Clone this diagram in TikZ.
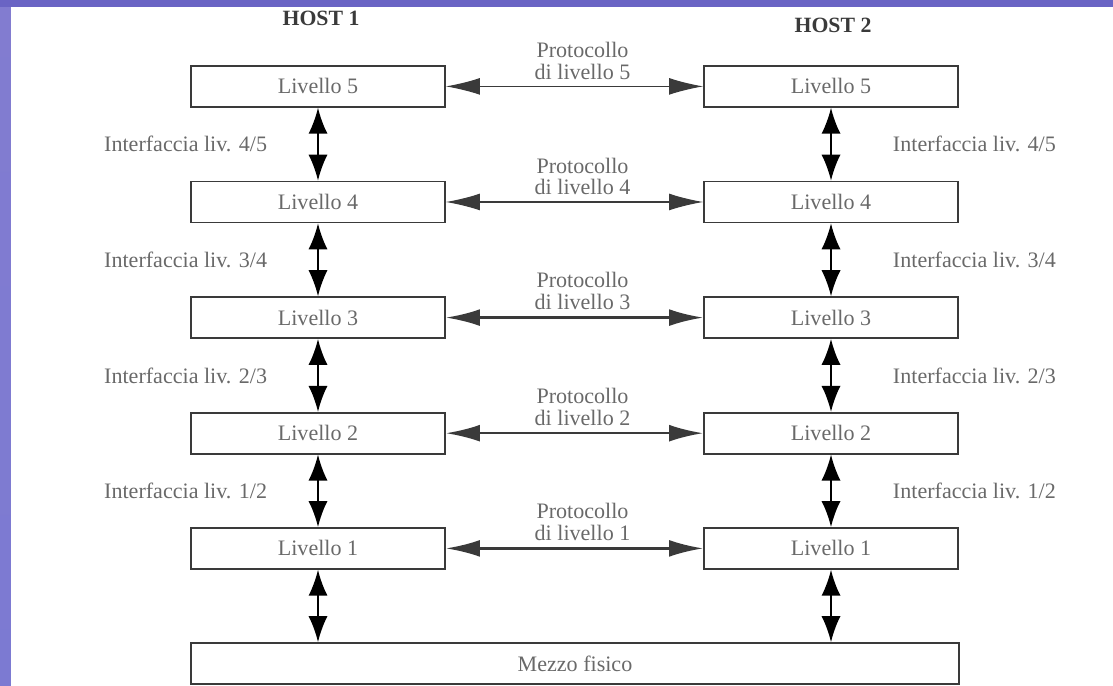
\documentclass[tikz,border=0pt]{standalone}
\usepackage{fontspec}
\setmainfont{Liberation Serif}
\definecolor{FrameBlue}{RGB}{106, 100, 196}
\definecolor{StripTop}{RGB}{130, 124, 208}
\definecolor{StripMid}{RGB}{170, 166, 222}
\definecolor{StripBot}{RGB}{124, 122, 210}
\definecolor{LineGray}{RGB}{58, 58, 58}
\definecolor{TextGray}{RGB}{105, 105, 105}
\usetikzlibrary{arrows.meta, positioning, calc}

\begin{document}
\begin{tikzpicture}[
        layer/.style={rectangle, draw=LineGray, line width=1.2pt, minimum width=6.35cm, minimum height=1.025cm, inner sep=0pt, text=TextGray, font=\fontsize{15.7}{15.5}\selectfont},
        host/.style={text=LineGray, font=\fontsize{15.5}{15.5}\selectfont\bfseries},
        iface/.style={inner sep=0pt, text=TextGray, font=\fontsize{15.7}{15.5}\selectfont},
        proto/.style={align=center, inner sep=2pt, text=TextGray, font=\fontsize{15.7}{15.5}\selectfont},
        varrow/.style={{Latex[length=6.5mm, width=4.8mm]}-{Latex[length=6.5mm, width=4.8mm]}, line width=1.4pt, black},
        harrow/.style={{Latex[length=8.5mm, width=4.2mm]}-{Latex[length=8.5mm, width=4.2mm]}, line width=0.8pt, LineGray},
        thickarrow/.style={harrow, line width=1.8pt}
    ]
        % Frame of the slide
        \useasboundingbox (0, 0) rectangle (27.825, 17.15);
        \shade[top color=StripTop, middle color=StripMid, bottom color=StripBot] (0, 0) rectangle (0.275, 17.15);
        \fill[FrameBlue] (0, 16.975) rectangle (27.825, 17.15);

        % Host 1
        \node[host] (h1) at (8.025, 16.7) {HOST 1};
        \node[layer] (l5a) at (7.95, 14.99) {Livello 5};
        \node[layer] (l4a) at (7.95, 12.10) {Livello 4};
        \node[layer] (l3a) at (7.95, 9.21) {Livello 3};
        \node[layer] (l2a) at (7.95, 6.32) {Livello 2};
        \node[layer] (l1a) at (7.95, 3.44) {Livello 1};

        % Host 2
        \node[host] (h2) at (20.825, 16.525) {HOST 2};
        \node[layer] (l5b) at (20.775, 14.99) {Livello 5};
        \node[layer] (l4b) at (20.775, 12.10) {Livello 4};
        \node[layer] (l3b) at (20.775, 9.21) {Livello 3};
        \node[layer] (l2b) at (20.775, 6.32) {Livello 2};
        \node[layer] (l1b) at (20.775, 3.44) {Livello 1};

        % Physical medium
        \node[layer, minimum width=19.2cm] (mezzo) at (14.375, 0.5625) {Mezzo fisico};

        % Peer protocols
        \draw[harrow] (l5a) -- node[proto, above=2.5pt, xshift=0.2cm] {Protocollo\\di livello 5} (l5b);
        \draw[harrow] (l4a) -- node[proto, above=2.5pt, xshift=0.2cm] {Protocollo\\di livello 4} (l4b);
        \draw[thickarrow] (l3a) -- node[proto, above=2.5pt, xshift=0.2cm] {Protocollo\\di livello 3} (l3b);
        \draw[thickarrow] (l2a) -- node[proto, above=2.5pt, xshift=0.2cm] {Protocollo\\di livello 2} (l2b);
        \draw[thickarrow] (l1a) -- node[proto, above=2.5pt, xshift=0.2cm] {Protocollo\\di livello 1} (l1b);

        % Interfaces, host 1
        \draw[varrow] (l5a) -- node[iface, left=1.25cm] {Interfaccia liv. 4/5} (l4a);
        \draw[varrow] (l4a) -- node[iface, left=1.25cm] {Interfaccia liv. 3/4} (l3a);
        \draw[varrow] (l3a) -- node[iface, left=1.25cm] {Interfaccia liv. 2/3} (l2a);
        \draw[varrow] (l2a) -- node[iface, left=1.25cm] {Interfaccia liv. 1/2} (l1a);
        \draw[varrow] (l1a) -- (l1a |- mezzo.north);

        % Interfaces, host 2
        \draw[varrow] (l5b) -- node[iface, right=1.525cm] {Interfaccia liv. 4/5} (l4b);
        \draw[varrow] (l4b) -- node[iface, right=1.525cm] {Interfaccia liv. 3/4} (l3b);
        \draw[varrow] (l3b) -- node[iface, right=1.525cm] {Interfaccia liv. 2/3} (l2b);
        \draw[varrow] (l2b) -- node[iface, right=1.525cm] {Interfaccia liv. 1/2} (l1b);
        \draw[varrow] (l1b) -- (l1b |- mezzo.north);
    \end{tikzpicture}
\end{document}
